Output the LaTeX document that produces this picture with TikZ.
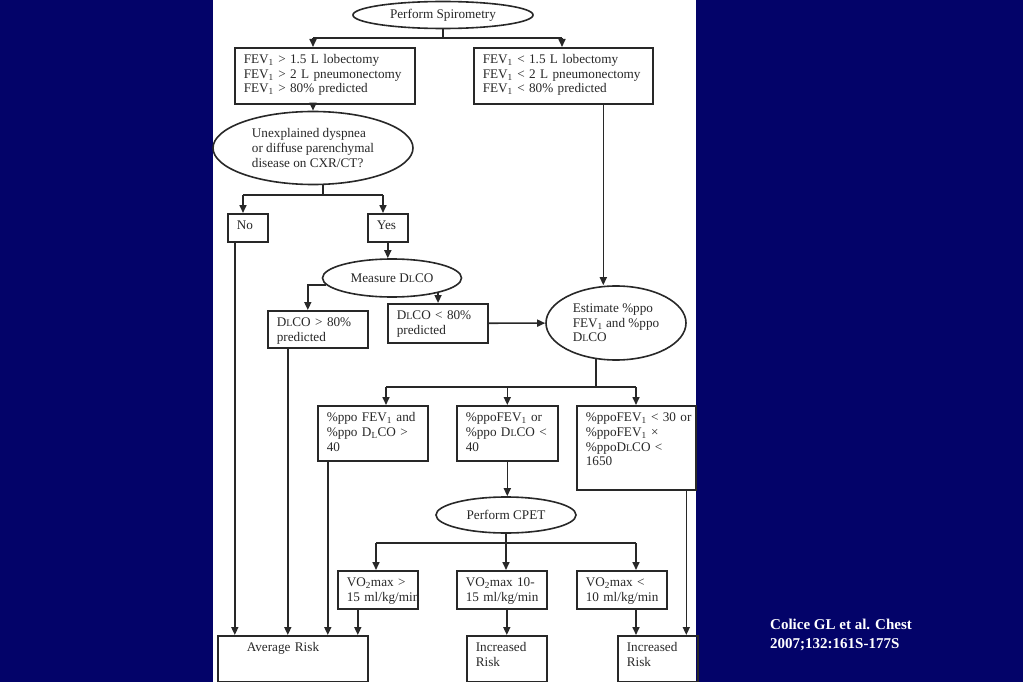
\documentclass[tikz,border=0pt]{standalone}
\usepackage{fontspec}
\setmainfont{Liberation Serif}
\usetikzlibrary{shapes.geometric,arrows.meta}
\definecolor{navy}{RGB}{3,3,105}
\definecolor{ink}{RGB}{40,40,40}
\newcommand{\dl}{D{\fontsize{10}{10}\selectfont L}CO}
\tikzset{
  box/.style={draw=ink, line width=1.6pt, anchor=north west, inner xsep=9pt, inner ysep=5pt, text height=11pt},
  oval/.style={draw=ink, line width=1.6pt, ellipse, align=left, inner sep=0pt},
  arr/.style={draw=ink, line width=1.6pt, -{Triangle[length=8pt,width=7pt]}},
  ln/.style={draw=ink, line width=1.6pt}
}

\begin{document}
\begin{tikzpicture}[x=1pt,y=-1pt,font=\fontsize{13.2}{14.6}\selectfont,text=ink]
\fill[navy] (0,0) rectangle (1023,682);
\fill[white] (213,0) rectangle (696,682);
\useasboundingbox (0,0) rectangle (1023,682);

%\node[oval] (spiro) at (443,15) {};
\node[oval, minimum width=180pt, minimum height=27pt] (spiro) at (443,15) {Perform Spirometry};
\node[box, text width=162pt, text depth=35pt] (fevhi) at (234,47) {FEV\textsubscript{1} > 1.5 L lobectomy\\FEV\textsubscript{1} > 2 L pneumonectomy\\FEV\textsubscript{1} > 80\% predicted};
\node[box, text width=161pt, text depth=35pt] (fevlo) at (473,47) {FEV\textsubscript{1} < 1.5 L lobectomy\\FEV\textsubscript{1} < 2 L pneumonectomy\\FEV\textsubscript{1} < 80\% predicted};
\node[oval, minimum width=200pt, minimum height=73pt] (unexp) at (313,148) {Unexplained dyspnea\\or diffuse parenchymal\\disease on CXR/CT?};
\node[box, text width=22pt, text depth=7pt] (no) at (227,213) {No};
\node[box, text width=22pt, text depth=7pt] (yes) at (367,213) {Yes};
\node[oval, minimum width=139pt, minimum height=38pt] (meas) at (392,278) {Measure \dl};
\node[box, text width=82pt, text depth=16pt] (dhi) at (267,310) {\dl{} > 80\%\\predicted};
\node[box, text width=82pt, text depth=18pt] (dlo) at (387,303) {\dl{} < 80\%\\predicted};
\node[oval, minimum width=140pt, minimum height=74pt] (est) at (616,323) {Estimate \%ppo\\FEV\textsubscript{1} and \%ppo\\\dl};
\node[box, text width=92pt, text depth=34pt] (ppoA) at (317,405) {\%ppo FEV\textsubscript{1} and\\\%ppo D\textsubscript{L}CO >\\40};
\node[box, text width=83pt, text depth=34pt] (ppoB) at (456,405) {\%ppoFEV\textsubscript{1} or\\\%ppo \dl{} <\\40};
\node[box, text width=101pt, text depth=63pt] (ppoC) at (576,405) {\mbox{\%ppoFEV\textsubscript{1} < 30 or}\\\%ppoFEV\textsubscript{1} ×\\\%ppo\dl{} <\\1650};
\node[oval, minimum width=140pt, minimum height=36pt] (cpet) at (506,515) {Perform CPET};
\node[box, text width=62pt, text depth=17pt] (voA) at (337,570) {VO\textsubscript{2}max >\\\mbox{15 ml/kg/min}};
\node[box, text width=72pt, text depth=17pt] (voB) at (456,570) {VO\textsubscript{2}max 10-\\\mbox{15 ml/kg/min}};
\node[box, text width=72pt, text depth=17pt] (voC) at (576,570) {VO\textsubscript{2}max <\\\mbox{10 ml/kg/min}};
\node[box, text width=132pt, text depth=25pt] (avg) at (217,635) {\hspace*{20pt}Average Risk};
\node[box, text width=62pt, text depth=25pt] (incA) at (466,635) {Increased\\Risk};
\node[box, text width=62pt, text depth=25pt] (incB) at (617,635) {Increased\\Risk};
\node[anchor=north west, text=white, font=\bfseries\fontsize{15}{19}\selectfont, align=left, inner sep=0pt] (cite) at (770,619) {Colice GL et al. Chest\\2007;132:161S-177S};

\coordinate (s1) at (313,38);
\coordinate (s2) at (562,38);
\draw[ln] (spiro) -- (spiro |- s1);
\draw[ln] (s1) -- (s2);
\foreach \a/\b in {s1/fevhi, s2/fevlo}
  \draw[arr] (\a) -- (\a |- \b.north);
\draw[arr] (fevhi.south -| unexp) -- (unexp);

\coordinate (s3) at (243,195);
\coordinate (s4) at (383,195);
\draw[ln] ([xshift=10]unexp.south) -- ([xshift=10]unexp.south |- s3);
\draw[ln] (s3) -- (s4);
\foreach \a/\b in {s3/no, s4/yes}
  \draw[arr] (\a) -- (\a |- \b.north);
\draw[arr] ([xshift=-13]no.south) -- ([xshift=-13]no.south |- avg.north);
\draw[arr] (yes) -- (yes |- meas.north);
\draw[arr] (meas.186) -| ([xshift=-10]dhi.north);
\draw[arr] (meas.-18) -- (meas.-18 |- dlo.north);
\draw[arr] (dlo) -- (est);
\draw[arr] ([xshift=40]fevlo.south) -- ([xshift=40]fevlo.south |- est.north);
\draw[arr] ([xshift=-30]dhi.south) -- ([xshift=-30]dhi.south |- avg.north);

\coordinate (s5) at (386,387);
\coordinate (s6) at (636,387);
\draw[ln] (est.241) -- (est.241 |- s5);
\draw[ln] (s5) -- (s6);
\foreach \a/\b in {s5/ppoA, s6/ppoC}
  \draw[arr] (\a) -- (\a |- \b.north);
\draw[arr] (ppoB.north |- s5) -- (ppoB.north);
\draw[arr] ([xshift=-45]ppoA.south) -- ([xshift=-45]ppoA.south |- avg.north);
\draw[arr] (ppoB) -- (ppoB |- cpet.north);
\draw[arr] ([xshift=50]ppoC.south) -- ([xshift=50]ppoC.south |- incB.north);

\coordinate (s7) at (376,543);
\coordinate (s8) at (636,543);
\draw[ln] (s7) -- (s8);
\draw[arr] (cpet) -- (cpet |- voB.north);
\foreach \a/\b in {s7/voA, s8/voC}
  \draw[arr] (\a) -- (\a |- \b.north);
\draw[arr] ([xshift=-20]voA.south) -- ([xshift=-20]voA.south |- avg.north);
\draw[arr] (incA |- voB.south) -- (incA);
\draw[arr] (s8 |- voC.south) -- (s8 |- incB.north);
\end{tikzpicture}
\end{document}
